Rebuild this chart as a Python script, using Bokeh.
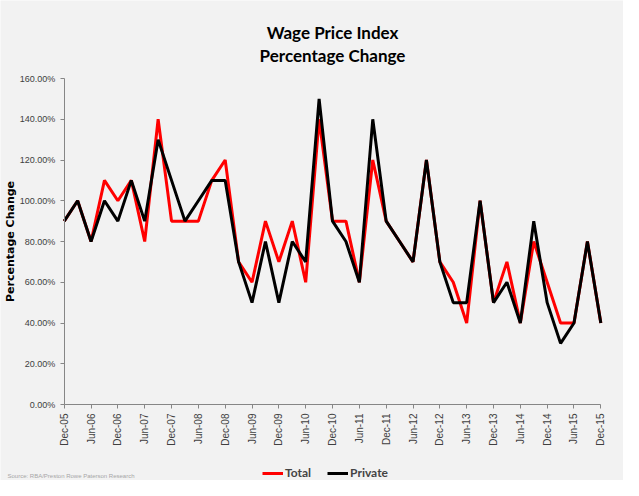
from bokeh.plotting import figure
from bokeh.models import FixedTicker, PrintfTickFormatter, Legend, LegendItem, Label
from bokeh.embed import file_html
from bokeh.resources import INLINE
import math

quarters = ["Dec-05", "Mar-06", "Jun-06", "Sep-06", "Dec-06", "Mar-07", "Jun-07", "Sep-07",
            "Dec-07", "Mar-08", "Jun-08", "Sep-08", "Dec-08", "Mar-09", "Jun-09", "Sep-09",
            "Dec-09", "Mar-10", "Jun-10", "Sep-10", "Dec-10", "Mar-11", "Jun-11", "Sep-11",
            "Dec-11", "Mar-12", "Jun-12", "Sep-12", "Dec-12", "Mar-13", "Jun-13", "Sep-13",
            "Dec-13", "Mar-14", "Jun-14", "Sep-14", "Dec-14", "Mar-15", "Jun-15", "Sep-15",
            "Dec-15"]
total = [90, 100, 80, 110, 100, 110, 80, 140, 90, 90, 90, 110, 120, 70, 60, 90, 70, 90, 60, 140,
         90, 90, 60, 120, 90, 80, 70, 120, 70, 60, 40, 100, 50, 70, 40, 80, 60, 40, 40, 80, 40]
private = [90, 100, 80, 100, 90, 110, 90, 130, 110, 90, 100, 110, 110, 70, 50, 80, 50, 80, 70, 150,
           90, 80, 60, 140, 90, 80, 70, 120, 70, 50, 50, 100, 50, 60, 40, 90, 50, 30, 40, 80, 40]
y_ticks = [0, 20, 40, 60, 80, 100, 120, 140, 160]

xs = list(range(len(quarters)))
label_ticks = xs[::2]
n = len(quarters) - 1

FONT = "Liberation Sans"
TFONT = "Lato"
BG = "#F2F2F2"

# the frame fills the whole figure; axes are pinned at 0 so that titles,
# source note and legend can sit around the plotting area
p = figure(width=623, height=480, output_backend="svg", toolbar_location=None,
           x_range=(-4.75, n + 1.69), y_range=(-37.3, 198.3), min_border=0)
p.background_fill_color = BG
p.border_fill_color = BG
p.outline_line_color = None
p.xgrid.visible = False
p.ygrid.visible = False

r_total = p.line(xs, total, line_color="#FF0000", line_width=3)
r_private = p.line(xs, private, line_color="#000000", line_width=3)

p.yaxis.fixed_location = 0
p.yaxis.bounds = (y_ticks[0], y_ticks[-1])
p.yaxis.ticker = FixedTicker(ticks=y_ticks)
p.yaxis.formatter = PrintfTickFormatter(format="%.2f%%")
p.yaxis.axis_line_color = "#868686"
p.yaxis.major_tick_line_color = "#868686"
p.yaxis.major_tick_in = 0
p.yaxis.major_tick_out = 4
p.yaxis.minor_tick_line_color = None
p.yaxis.major_label_text_font = FONT
p.yaxis.major_label_text_font_size = "9px"
p.yaxis.major_label_text_color = "#404040"
p.yaxis.axis_label = "Percentage Change"
p.yaxis.axis_label_text_font = "DejaVu Sans"
p.yaxis.axis_label_text_font_style = "bold"
p.yaxis.axis_label_text_font_size = "11px"
p.yaxis.axis_label_text_color = "#000000"
p.yaxis.axis_label_standoff = 0

p.xaxis.fixed_location = 0
p.xaxis.bounds = (0, n)
p.xaxis.ticker = FixedTicker(ticks=label_ticks)
p.xaxis.major_label_overrides = {i: quarters[i] for i in label_ticks}
p.xaxis.major_label_orientation = math.pi / 2
p.xaxis.axis_line_color = "#868686"
p.xaxis.major_tick_line_color = "#868686"
p.xaxis.major_tick_in = 0
p.xaxis.major_tick_out = 4
p.xaxis.minor_tick_line_color = None
p.xaxis.major_label_text_font = FONT
p.xaxis.major_label_text_font_size = "10px"
p.xaxis.major_label_text_color = "#404040"

p.add_layout(Label(x=n / 2, y=182.6, text="Wage Price Index", text_align="center",
                   text_baseline="middle", text_font=TFONT, text_font_size="17px",
                   text_font_style="bold", text_color="#000000"))
p.add_layout(Label(x=n / 2, y=171.3, text="Percentage Change", text_align="center",
                   text_baseline="middle", text_font=TFONT, text_font_size="17px",
                   text_font_style="bold", text_color="#000000"))
p.add_layout(Label(x=-4.23, y=-35.3, text="Source: RBA/Preston Rowe Paterson Research",
                   text_align="left", text_baseline="middle", text_font=FONT,
                   text_font_size="6px", text_color="#A6A6A6"))

legend = Legend(items=[LegendItem(label="Total", renderers=[r_total]),
                       LegendItem(label="Private", renderers=[r_private])],
                orientation="horizontal", location=(262, 0),
                background_fill_alpha=0, border_line_color=None,
                label_text_font=TFONT, label_text_font_size="12px", label_text_font_style="bold",
                label_height=14, glyph_width=21, glyph_height=14, spacing=16,
                label_standoff=2, padding=0, margin=0)
p.add_layout(legend)

open("out.html", "w").write(file_html(p, INLINE))
